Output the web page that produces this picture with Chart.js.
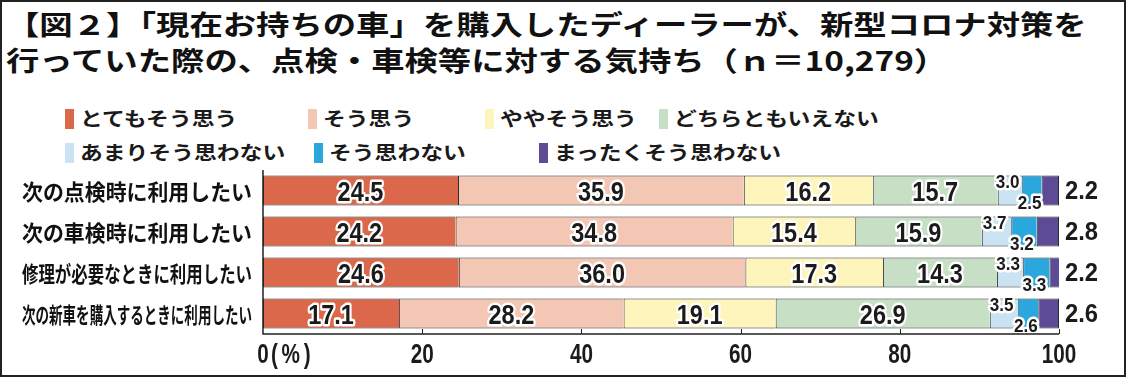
<!DOCTYPE html>
<html lang="ja">
<head>
<meta charset="utf-8">
<script src="https://cdn.jsdelivr.net/npm/chart.js@4.4.1/dist/chart.umd.min.js"></script>
<style>
  html, body { margin: 0; padding: 0; background: #fff; }
  #page { position: relative; width: 1126px; height: 377px; overflow: hidden; background: #fff; }
  #frame { position: absolute; left: 0; top: 0; width: 1122px; height: 373px; border: 2px solid #222; pointer-events: none; }
  .title { position: absolute; left: 6px; font-family: "Noto Sans CJK JP", sans-serif; font-weight: 700;
           font-size: 27px; line-height: 36px; color: #111; white-space: nowrap;
           transform: scaleX(1.235); transform-origin: left center; }
  .lg { position: absolute; font-family: "Noto Sans CJK JP", sans-serif; font-weight: 700; font-size: 19px;
        line-height: 20px; color: #1a1a1a; white-space: nowrap; }
  .lg i { position: absolute; left: 0; top: 0; width: 9px; height: 20px; }
  .lg span { position: absolute; left: 15px; top: -1px; transform: scaleX(1.2); transform-origin: left center; }
  #chart { position: absolute; left: 0; top: 0; }
</style>
</head>
<body>
<div id="page">
  <div class="title" style="top:6px">【図２】「現在お持ちの車」を購入したディーラーが、新型コロナ対策を</div>
  <div class="title" style="top:42px">行っていた際の、点検・車検等に対する気持ち（ｎ＝10,279）</div>
  <div id="legend"></div>
  <canvas id="chart" width="1126" height="377"></canvas>
  <div id="frame"></div>
</div>
<script>
// ── data ──
const categories = [
  '次の点検時に利用したい',
  '次の車検時に利用したい',
  '修理が必要なときに利用したい',
  '次の新車を購入するときに利用したい'
];
const seriesNames = [
  'とてもそう思う', 'そう思う', 'ややそう思う', 'どちらともいえない',
  'あまりそう思わない', 'そう思わない', 'まったくそう思わない'
];
const veryMuch   = [24.5, 24.2, 24.6, 17.1];
const agree      = [35.9, 34.8, 36.0, 28.2];
const somewhat   = [16.2, 15.4, 17.3, 19.1];
const neutral    = [15.7, 15.9, 14.3, 26.9];
const notReally  = [3.0, 3.7, 3.3, 3.5];
const disagree   = [2.5, 3.2, 3.3, 2.6];
const notAtAll   = [2.2, 2.8, 2.2, 2.6];
const seriesValues = [veryMuch, agree, somewhat, neutral, notReally, disagree, notAtAll];
const xTicks = [0, 20, 40, 60, 80, 100];

// ── styles ──
const seriesColors = ['#dc684b', '#f4c6b4', '#fdf5bb', '#c6dfc5', '#c9e3f3', '#2aa8dd', '#5d4c95'];
// legend slots: [left, top]
const legendPos = [[65, 109], [308, 109], [485, 109], [659, 109], [65, 143], [314, 143], [539, 143]];

const legendEl = document.getElementById('legend');
seriesNames.forEach((name, i) => {
  const d = document.createElement('div');
  d.className = 'lg';
  d.style.left = legendPos[i][0] + 'px';
  d.style.top = legendPos[i][1] + 'px';
  d.innerHTML = `<i style="background:${seriesColors[i]}"></i><span>${name}</span>`;
  legendEl.appendChild(d);
});

const NUM_FONT = '"Liberation Sans", "DejaVu Sans", sans-serif';
const JP_FONT = '"Noto Sans CJK JP", sans-serif';

// number text, vertically centred on the digit height
function numText(ctx, text, x, y, size, sx, outline, align) {
  ctx.save();
  ctx.translate(x, y + size * 0.358);
  ctx.scale(sx, 1);
  ctx.font = `bold ${size}px ${NUM_FONT}`;
  ctx.textAlign = align || 'center';
  ctx.textBaseline = 'alphabetic';
  if (outline) {
    ctx.lineJoin = 'round';
    ctx.lineWidth = 5;
    ctx.strokeStyle = '#fff';
    ctx.strokeText(text, 0, 0);
  }
  ctx.fillStyle = '#1b1b1b';
  ctx.fillText(text, 0, 0);
  ctx.restore();
}

const axisPlugin = {
  id: 'axisDraw',
  afterDraw(chart) {
    const { ctx, chartArea, scales: { x, y } } = chart;
    const x0 = x.getPixelForValue(0);
    const x100 = x.getPixelForValue(100);
    ctx.save();
    ctx.strokeStyle = '#222';
    ctx.lineWidth = 1.5;
    ctx.beginPath();
    ctx.moveTo(x0, chartArea.top);
    ctx.lineTo(x0, chartArea.bottom);
    ctx.lineTo(x100, chartArea.bottom);
    ctx.stroke();
    ctx.lineWidth = 1;
    xTicks.forEach(v => {
      if (v === 0) return;
      const px = Math.round(x.getPixelForValue(v)) + 0.5;
      ctx.beginPath();
      ctx.moveTo(px, chartArea.bottom - 5);
      ctx.lineTo(px, chartArea.bottom);
      ctx.stroke();
    });
    ctx.restore();

    // x tick labels
    const ty = chartArea.bottom + 19;
    xTicks.forEach(v => {
      const px = x.getPixelForValue(v);
      numText(ctx, String(v), px, ty, 28, 0.74, false);
      if (v === 0) {
        ctx.save();
        ctx.letterSpacing = '5px';
        numText(ctx, '(%)', px + 8, ty, 28, 0.74, false, 'left');
        ctx.restore();
      }
    });

    // category labels, fitted to a common width
    ctx.save();
    ctx.font = `bold 22px ${JP_FONT}`;
    ctx.fillStyle = '#111';
    ctx.textAlign = 'right';
    ctx.textBaseline = 'middle';
    categories.forEach((c, i) => {
      const py = y.getPixelForValue(i) + 1;
      const w = ctx.measureText(c).width;
      const sx = 230 / w;
      ctx.save();
      ctx.translate(252, py);
      ctx.scale(sx, 1);
      ctx.fillText(c, 0, 0);
      ctx.restore();
    });
    ctx.restore();
  }
};

const valuePlugin = {
  id: 'valueLabels',
  afterDatasetsDraw(chart) {
    const { ctx } = chart;
    const last = seriesValues.length - 1;
    seriesValues.forEach((vals, di) => {
      const meta = chart.getDatasetMeta(di);
      meta.data.forEach((bar, i) => {
        const txt = vals[i].toFixed(1);
        const left = bar.base, right = bar.x;
        const cx = (left + right) / 2;
        const cy = bar.y;
        if (di <= 3) {
          numText(ctx, txt, cx, cy, 28, 0.84, true);
        } else if (di === 4) {
          numText(ctx, txt, cx - 2, cy - 9, 18, 0.95, true);
        } else if (di === 5) {
          numText(ctx, txt, cx - 2, cy + 12, 18, 0.95, true);
        } else if (di === last) {
          const end = chart.scales.x.getPixelForValue(100);
          numText(ctx, txt, end + 6, cy, 25, 0.95, false, 'left');
        }
      });
    });
  }
};

new Chart(document.getElementById('chart'), {
  type: 'bar',
  data: {
    labels: categories,
    datasets: seriesNames.map((name, i) => ({
      label: name,
      data: seriesValues[i],
      backgroundColor: seriesColors[i],
      borderColor: '#2a2a2a',
      borderWidth: { top: 1, bottom: 1, left: 1, right: i === seriesNames.length - 1 ? 1 : 0 },
      borderSkipped: false,
      barPercentage: 0.73,
      categoryPercentage: 1,
    }))
  },
  options: {
    indexAxis: 'y',
    responsive: false,
    animation: false,
    layout: { padding: { left: 263, right: 67, top: 170, bottom: 43 } },
    plugins: { legend: { display: false }, tooltip: { enabled: false } },
    scales: {
      x: { stacked: true, min: 0, max: 100, display: false },
      y: { stacked: true, display: false }
    }
  },
  plugins: [axisPlugin, valuePlugin]
});
</script>
</body>
</html>
